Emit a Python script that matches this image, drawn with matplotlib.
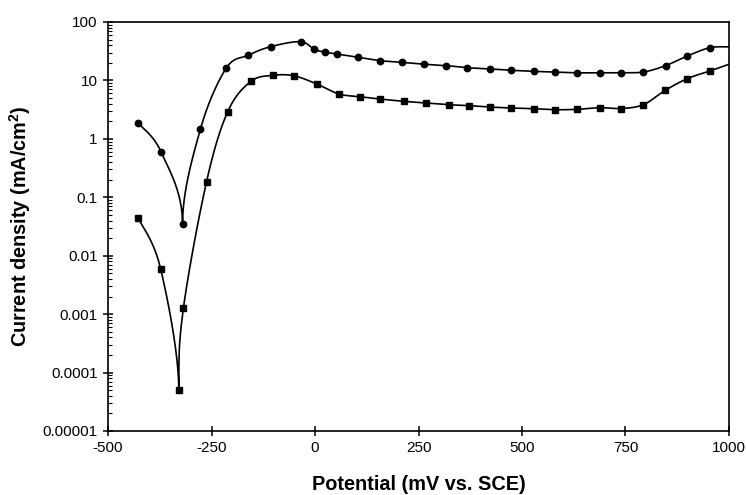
import matplotlib

matplotlib.use("Agg")
import matplotlib.pyplot as plt
import numpy as np
from matplotlib.ticker import FixedLocator, LogLocator, NullFormatter

plt.rcParams["font.family"] = ["Liberation Sans", "DejaVu Sans"]

# potential (mV vs SCE) and current density (mA/cm2)
circle_x = [-427, -372, -320, -277, -215, -161, -106, -35, -2, 24, 54, 105, 157,
            209, 264, 317, 368, 423, 474, 528, 579, 634, 688, 739, 793, 847, 899, 954, 1000]
circle_y = [1.85, 0.60, 0.035, 1.45, 16.0, 27.0, 38.0, 46.0, 34.0, 30.5, 28.3, 24.8, 21.8,
            20.4, 18.9, 17.9, 16.5, 15.7, 14.9, 14.3, 13.9, 13.5, 13.5, 13.6, 13.9, 17.9, 26.2, 36.3, 37.5]

square_x = [-427, -373, -329, -318, -262, -211, -155, -101, -51, 4, 58, 109, 157,
            214, 269, 323, 373, 423, 474, 528, 579, 634, 688, 739, 793, 846, 899, 954, 1000]
square_y = [0.044, 0.0060, 0.00005, 0.00125, 0.185, 2.9, 9.6, 12.2, 12.0, 8.7, 5.85, 5.26, 4.8,
            4.39, 4.1, 3.84, 3.69, 3.5, 3.37, 3.28, 3.15, 3.2, 3.41, 3.3, 3.84, 6.77, 10.7, 14.5, 18.9]

x_ticks = [-500, -250, 0, 250, 500, 750, 1000]
x_tick_labels = ["-500", "-250", "0", "250", "500", "750", "1000"]
y_ticks = [1e-5, 1e-4, 1e-3, 1e-2, 1e-1, 1, 10, 100]
y_tick_labels = ["0.00001", "0.0001", "0.001", "0.01", "0.1", "1", "10", "100"]


def smooth_curve(xs, ys, n=60):
    # bezier smoothing in screen-like space (x linear, y in decades scaled to pixels),
    # deep minima become a vertical cusp
    px = np.asarray(xs, float) * 0.414
    py = np.log10(np.asarray(ys, float)) * 58.4
    pts = np.column_stack([px, py])
    m = len(pts)
    t_in = np.zeros_like(pts)
    t_out = np.zeros_like(pts)
    for i in range(m):
        a = pts[max(i - 1, 0)]
        b = pts[min(i + 1, m - 1)]
        t_in[i] = t_out[i] = (b - a) / 6.0
        if 0 < i < m - 1 and py[i] < py[i - 1] - 40 and py[i] < py[i + 1] - 40:
            h = 0.45 * min(py[i - 1] - py[i], py[i + 1] - py[i])
            t_in[i] = [0.0, -h]
            t_out[i] = [0.0, h]
    out = []
    t = np.linspace(0, 1, n)[:, None]
    for i in range(m - 1):
        p1, p2 = pts[i], pts[i + 1]
        c1 = p1 + t_out[i]
        c2 = p2 - t_in[i + 1]
        seg = ((1 - t) ** 3) * p1 + 3 * ((1 - t) ** 2) * t * c1 + 3 * (1 - t) * t ** 2 * c2 + t ** 3 * p2
        out.append(seg)
    out = np.vstack(out)
    return out[:, 0] / 0.414, 10 ** (out[:, 1] / 58.4)


fig = plt.figure(figsize=(7.46, 4.95), dpi=100)
ax = fig.add_axes([0.1448, 0.1293, 0.8324, 0.8263])

for xs, ys, mk, ms in [(circle_x, circle_y, "o", 4.6), (square_x, square_y, "s", 4.2)]:
    sx, sy = smooth_curve(xs, ys)
    ax.plot(sx, sy, color="black", lw=1.2)
    ax.plot(xs[:-1], ys[:-1], linestyle="none", marker=mk, ms=ms, color="black")

ax.set_yscale("log")
ax.set_xlim(-500, 1000)
ax.set_ylim(1e-5, 100)

ax.xaxis.set_major_locator(FixedLocator(x_ticks))
ax.set_xticklabels(x_tick_labels)
ax.yaxis.set_major_locator(FixedLocator(y_ticks))
ax.set_yticklabels(y_tick_labels)
ax.yaxis.set_minor_locator(LogLocator(base=10, subs=np.arange(2, 10)))
ax.yaxis.set_minor_formatter(NullFormatter())

ax.tick_params(axis="both", which="major", direction="inout", length=7, width=1.1,
               labelsize=11, pad=4)
ax.tick_params(axis="y", which="minor", direction="in", length=3, width=0.8)
ax.tick_params(axis="x", which="minor", length=0)

for side in ["left", "bottom", "right", "top"]:
    ax.spines[side].set_linewidth(1.2)

ax.set_xlabel("Potential (mV vs. SCE)", fontsize=14.3, fontweight="bold", labelpad=14)
ax.set_ylabel("Current density (mA/cm$^\\mathregular{2}$)", fontsize=14.3, fontweight="bold", labelpad=7)

fig.savefig("out.png", dpi=100)
